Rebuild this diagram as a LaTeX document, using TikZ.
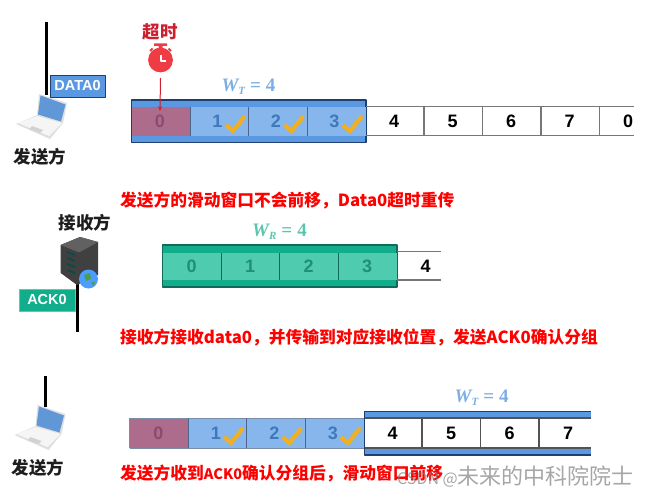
\documentclass[tikz,border=0pt]{standalone}
\usepackage{fontspec}
\setmainfont{Liberation Sans}
\newfontfamily\cjk{Noto Sans CJK SC}
\newfontfamily\serifbold{Liberation Serif}
\usetikzlibrary{arrows.meta}
\newcommand{\Unit}{1pt}
\newcommand{\Slot}{58.5}
\definecolor{bandblue}{HTML}{5A98E2}
\definecolor{cellblue}{HTML}{86B6EC}
\definecolor{edgeblue}{HTML}{1F3F70}
\definecolor{numblue}{HTML}{3F79BC}
\definecolor{titleblue}{HTML}{7BAEE2}
\definecolor{cellred}{HTML}{AE6C8C}
\definecolor{numred}{HTML}{8A4A72}
\definecolor{bandteal}{HTML}{12AE8C}
\definecolor{cellteal}{HTML}{4FCBB0}
\definecolor{edgeteal}{HTML}{116B5C}
\definecolor{numteal}{HTML}{1F8F78}
\definecolor{titleteal}{HTML}{5CC5AE}
\definecolor{tick}{HTML}{F0B022}
\definecolor{watch}{HTML}{EE3B44}
\definecolor{watchtext}{HTML}{CE1F2E}
\definecolor{rim}{HTML}{777777}
\definecolor{ink}{HTML}{1E1E1E}
\newcommand{\Tick}[2]{\draw[tick,line width=4.2pt] (#1,#2) -- ++(7,6) -- ++(12,-15);}
\newcommand{\WinName}[1]{{\itshape W\raisebox{-3pt}{\fontsize{11}{11}\selectfont #1}}\hspace{5pt}=\hspace{5pt}4}
\newcommand{\Laptop}[2]{
  \begin{scope}[shift={(#1,#2)}]
    \fill[gray!25] (39,94) -- (67,103) -- (63,123) -- (50,139) -- (16,124) -- (37,115) -- cycle;
    \fill[gray!8] (37,116) -- (62,123) -- (49,136) -- (18,123) -- cycle;
    \fill[gray!35] (32,126) -- (43,130) -- (40,133) -- (29,129) -- cycle;
    \fill[cyan!55!blue!65] (40.5,95.5) -- (65.5,104.5) -- (61,121.5) -- (38,114.5) -- cycle;
  \end{scope}}
\tikzset{
  num/.style={font=\bfseries\fontsize{18}{18}\selectfont},
  wintitle/.style={font=\serifbold\bfseries\fontsize{19}{19}\selectfont},
  remark/.style={anchor=west,inner sep=0pt,text=red,font=\cjk\bfseries\fontsize{16.75}{17}\selectfont},
  who/.style={text=ink,inner sep=0pt,font=\cjk\bfseries\fontsize{17.5}{18}\selectfont},
  tag/.style={text=white,inner sep=0pt,font=\bfseries\fontsize{14.5}{15}\selectfont},
}

\begin{document}
\begin{tikzpicture}[x=\Unit,y=-\Unit, line join=round]
  \useasboundingbox (0,0) rectangle (650,495);

  % ---- first row: sender, timer and window ---------------------------------
  \draw[black,line width=3pt] (46.5,22) -- (46.5,95);
  \Laptop{0}{0}
  \node[who] (sendera) at (40,157) {发送方};
  \node[tag,fill=bandblue,draw=edgeblue,line width=1pt,minimum width=55pt,minimum height=22pt] (dataz) at (77.5,86) {DATA0};

  % the window goes under the cells
  \fill[bandblue,draw=edgeblue,line width=1.2pt] (131.5,100) rectangle (366,142.5);
  \fill[cellred] (131.5,106.5) rectangle ++(\Slot,29.3);
  \fill[cellblue] (190,106.5) rectangle (366,135.8);
  \foreach \i in {1,2,3} {
    \pgfmathsetmacro\x{131.5+\i*\Slot}
    \draw[edgeblue!80,line width=.8pt] (\x,106.5) -- (\x,135.8);
  }
  \draw[rim,line width=1.2pt] (366,106.5) -- (634,106.5) (366,135.8) -- (634,135.8);
  \foreach \i in {5,...,8} {
    \pgfmathsetmacro\x{131.5+\i*\Slot}
    \draw[rim,line width=1.2pt] (\x,106.5) -- (\x,135.8);
  }
  \node[num,text=numred] (afirst) at (160,121) {0};
  \foreach \i/\t in {1/1,2/2,3/3} {
    \pgfmathsetmacro\x{160+\i*\Slot-1}
    \node[num,text=numblue] (a\t) at (\x,121) {\t};
    \pgfmathsetmacro\x{131.5+\i*\Slot+36}
    \Tick{\x}{125}
  }
  \foreach \i/\t in {4/4,5/5,6/6,7/7,8/0} {
    \pgfmathsetmacro\x{160+\i*\Slot}
    \node[num] (a\i) at (\x,121) {\t};
  }
  \node[wintitle,text=titleblue] (wina) at (248.5,87) {\WinName{T}};

  % the stopwatch above cell 0
  \node[text=watchtext,inner sep=0pt,font=\cjk\bfseries\fontsize{17.5}{18}\selectfont] (late) at (160,32) {超时};
  \fill[watch] (160.5,60) circle (12.4);
  \fill[watch] (154,43.5) rectangle (167,46) (158.5,45) rectangle (162.5,49);
  \draw[watch,line width=2pt] (150,51) -- (152.5,48.5) (171,51) -- (168.5,48.5);
  \draw[white,line width=1.1pt] (161,55.5) -- (161,61) -- (166,61);
  \coordinate (watchfoot) at (160.5,78);
  \draw[watchtext,line width=1pt,-{Stealth[length=5pt,width=4pt]}] (watchfoot) -- (afirst.north);

  \node[remark] (notea) at (120,200) {发送方的滑动窗口不会前移，Data0超时重传};

  % ---- second row: receiver and its window ---------------------------------
  \node[who] (receiver) at (85,223) {接收方};
  \draw[black,line width=3pt] (77.5,284) -- (77.5,332);
  \fill[ink!85] (60.7,245) -- (80,237) -- (98,242) -- (98,275) -- (77,285) -- (60.7,273) -- cycle;
  \fill[ink!70] (80,252) -- (98,242) -- (80,237) -- (60.7,245) -- (78,252) -- cycle;
  \foreach \y in {0,1,2,3}
    \draw[teal!60!black,line width=1.4pt] (67,{252+\y*6}) -- (75,{255+\y*6});
  \fill[blue!55!cyan!70] (88.5,279) circle (9.5);
  \fill[green!45!black!70] (84,275) -- (90,273) -- (91,279) -- (86,281) -- cycle (91,283) -- (95,281) -- (94,286) -- cycle;
  \node[tag,fill=bandteal,draw=gray!70,line width=.8pt,minimum width=56pt,minimum height=22pt] (ackz) at (47,300) {ACK0};

  \fill[bandteal,draw=edgeteal,line width=1.2pt] (162.5,245) rectangle (397,287);
  \fill[cellteal] (162.5,252.5) rectangle (397,280);
  \foreach \i in {1,2,3} {
    \pgfmathsetmacro\x{162.5+\i*\Slot}
    \draw[edgeteal,line width=.8pt] (\x,252.5) -- (\x,280);
  }
  \draw[rim,line width=1.2pt] (397,251.7) -- (441,251.7) (397,280) -- (441,280);
  \foreach \i in {0,...,3} {
    \pgfmathsetmacro\x{191.7+\i*\Slot}
    \node[num,text=numteal] (b\i) at (\x,266) {\i};
  }
  \node[num] (b4) at (425.7,266) {4};
  \node[wintitle,text=titleteal] (winb) at (279.5,232) {\WinName{R}};

  \node[remark] (noteb) at (120,337) {接收方接收data0，并传输到对应接收位置，发送ACK0确认分组};

  % ---- third row: sender again, window moved on ----------------------------
  \draw[black,line width=3pt] (45,376) -- (45,407);
  \Laptop{-1.5}{311}
  \node[who] (senderb) at (38,468) {发送方};

  \fill[cellred] (129.5,418) rectangle ++(\Slot,30);
  \fill[cellblue] (188,418) rectangle (364.5,448);
  \draw[edgeblue!60,line width=.8pt] (129.5,418) -- (364.5,418) (129.5,448) -- (364.5,448) (129.5,418) -- (129.5,448);
  \foreach \i in {1,2,3} {
    \pgfmathsetmacro\x{129.5+\i*\Slot}
    \draw[edgeblue!80,line width=.8pt] (\x,418) -- (\x,448);
  }
  \fill[bandblue] (364.5,411.5) rectangle (591,455);
  \fill[white] (364.5,418) rectangle (591,448);
  \draw[edgeblue,line width=1.2pt] (591,411.5) -- (364.5,411.5) -- (364.5,455) -- (591,455);
  \draw[rim!70!black,line width=1.1pt] (364.5,418) -- (591,418) (364.5,448) -- (591,448);
  \foreach \i in {5,6,7} {
    \pgfmathsetmacro\x{129.5+\i*\Slot}
    \draw[rim!70!black,line width=1.1pt] (\x,418) -- (\x,448);
  }
  \node[num,text=numred] (cfirst) at (158.5,433) {0};
  \foreach \i in {1,2,3} {
    \pgfmathsetmacro\x{158.5+\i*\Slot-1}
    \node[num,text=numblue] (c\i) at (\x,433) {\i};
    \pgfmathsetmacro\x{129.5+\i*\Slot+36}
    \Tick{\x}{437}
  }
  \foreach \i in {4,...,7} {
    \pgfmathsetmacro\x{158.5+\i*\Slot}
    \node[num] (c\i) at (\x,433) {\i};
  }
  \node[wintitle,text=titleblue] (winc) at (481.7,398) {\WinName{T}};

  \node[remark] (notec) at (120,473) {发送方收到{\fontsize{14.5}{17}\selectfont ACK0}确认分组后，滑动窗口前移};

  % ---- the mark across the corner ------------------------------------------
  \node[anchor=east,inner sep=0pt,text=gray,text opacity=.7,font=\cjk] (mark) at (634,477) {{\fontsize{16}{22}\selectfont CSDN @}{\fontsize{22}{22}\selectfont 未来的中科院院士}};

\end{tikzpicture}
\end{document}
